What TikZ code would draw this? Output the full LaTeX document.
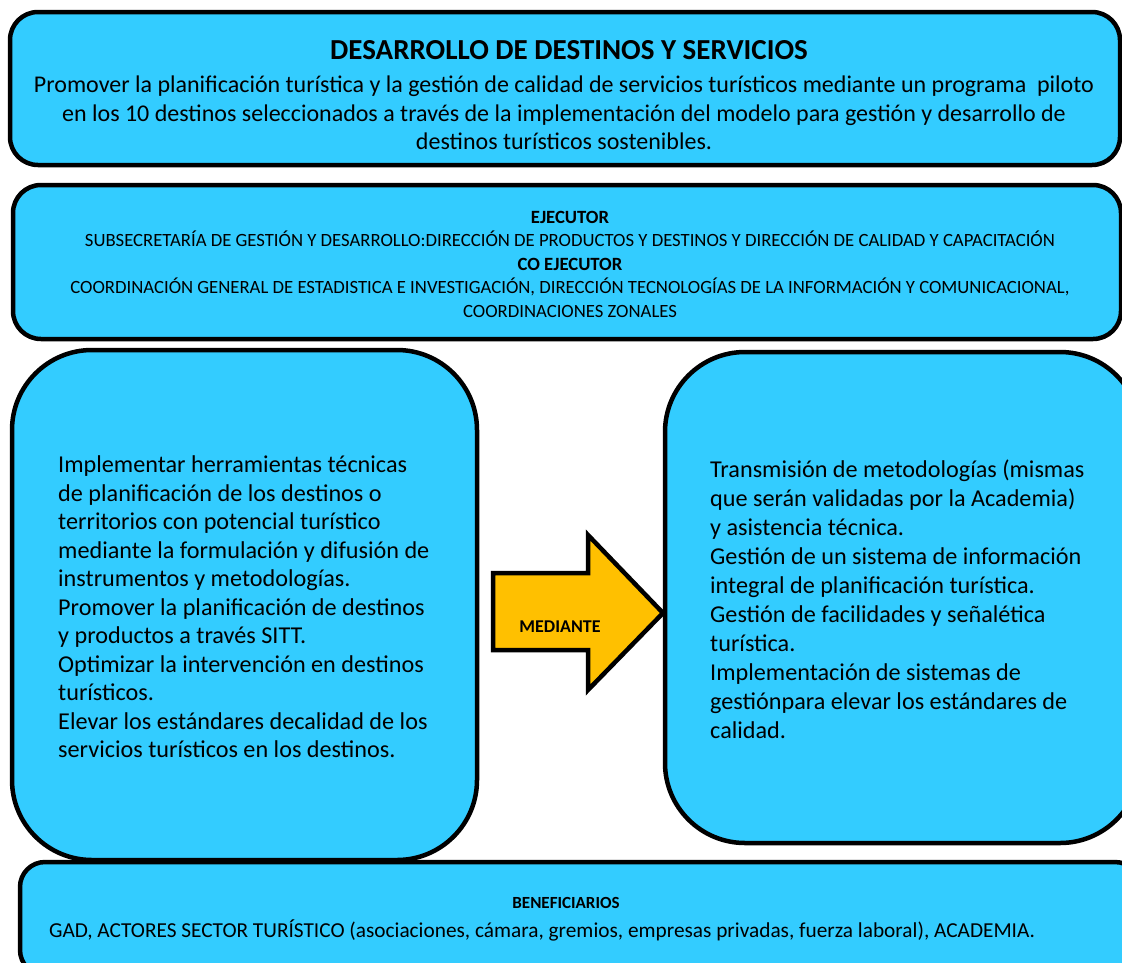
\documentclass[tikz,border=0pt]{standalone}
\usepackage{fontspec}
\setmainfont{Carlito}
\definecolor{boxcyan}{HTML}{33CCFF}
\definecolor{arrgold}{HTML}{FFC000}
\tikzset{
  panel/.style={draw=black, line width=4.5pt, fill=boxcyan, line join=round},
  txt/.style={inner sep=0pt, text=black},
}
\begin{document}
\begin{tikzpicture}[x=1pt,y=-1pt]
\useasboundingbox (0,0) rectangle (1122,962);
% boxes
\draw[panel, rounded corners=28pt] (10,12) rectangle (1120,165);
\draw[panel, rounded corners=28pt] (13,185) rectangle (1121,339);
\draw[panel, rounded corners=80pt] (665,352) rectangle (1140,843);
\draw[panel, rounded corners=25pt] (20,862) rectangle (1140,975);
\draw[panel, rounded corners=80pt] (12,350) rectangle (477,860);
% arrow
\draw[draw=black, line width=4.5pt, fill=arrgold, line join=miter]
  (493,573) -- (588,573) -- (588,535) -- (663,613) -- (588,690) -- (588,650) -- (493,650) -- cycle;
% texts
\node[txt, font=\bfseries\fontsize{29}{32}\selectfont] (title) at (569,50) {DESARROLLO DE DESTINOS Y SERVICIOS};
\node[txt, align=center, font=\fontsize{24}{28.5}\selectfont] (goal) at (564,113)
 {Promover la planificación turística y la gestión de calidad de servicios turísticos mediante un programa\ \ piloto\\
  en los 10 destinos seleccionados a través de la implementación del modelo para gestión y desarrollo de\\
  destinos turísticos sostenibles.};
\node[txt, align=center, font=\fontsize{18.7}{23.5}\selectfont] (ejec) at (570,264)
 {\textbf{EJECUTOR}\\
  SUBSECRETARÍA DE GESTIÓN Y DESARROLLO:DIRECCIÓN DE PRODUCTOS Y DESTINOS Y DIRECCIÓN DE CALIDAD Y CAPACITACIÓN\\
  \textbf{CO EJECUTOR}\\
  COORDINACIÓN GENERAL DE ESTADISTICA E INVESTIGACIÓN, DIRECCIÓN TECNOLOGÍAS DE LA INFORMACIÓN Y COMUNICACIONAL,\\
  COORDINACIONES ZONALES};
\node[txt, anchor=west, align=left, font=\fontsize{24.2}{28.5}\selectfont] (left) at (58,607)
 {Implementar herramientas técnicas\\
  de planificación de los destinos o\\
  territorios con potencial turístico\\
  mediante la formulación y difusión de\\
  instrumentos y metodologías.\\
  Promover la planificación de destinos\\
  y productos a través SITT.\\
  Optimizar la intervención en destinos\\
  turísticos.\\
  Elevar los estándares decalidad de los\\
  servicios turísticos en los destinos.};
\node[txt, anchor=west, align=left, font=\fontsize{24.2}{29}\selectfont] (right) at (710,599)
 {Transmisión de metodologías (mismas\\
  que serán validadas por la Academia)\\
  y asistencia técnica.\\
  Gestión de un sistema de información\\
  integral de planificación turística.\\
  Gestión de facilidades y señalética\\
  turística.\\
  Implementación de sistemas de\\
  gestiónpara elevar los estándares de\\
  calidad.};
\node[txt, font=\bfseries\fontsize{18}{20}\selectfont] (med) at (560,627) {MEDIANTE};
\node[txt, font=\bfseries\fontsize{17}{20}\selectfont] (benT) at (566,903) {BENEFICIARIOS};
\node[txt, font=\fontsize{21.3}{24}\selectfont] (ben) at (542,930)
 {GAD, ACTORES SECTOR TURÍSTICO (asociaciones, cámara, gremios, empresas privadas, fuerza laboral), ACADEMIA.};
\end{tikzpicture}
\end{document}
